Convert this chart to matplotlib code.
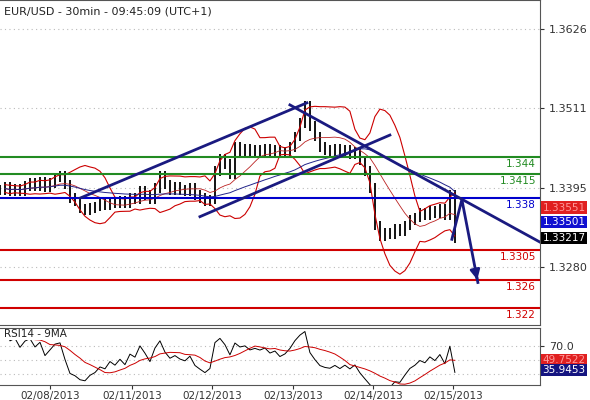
import numpy as np, pandas as pd
import matplotlib
matplotlib.use("Agg")
import matplotlib.pyplot as plt

closes = [1.3392,1.3396,1.3390,1.3394,1.3390,1.3398,1.3402,1.3398,1.3404,1.3396,1.3402,1.3410,1.3412,1.3400,
          1.3380,1.3375,1.3365,1.3362,1.3366,1.3368,1.3372,1.3370,1.3375,1.3372,1.3376,1.3372,1.3380,1.3378,
          1.3390,1.3385,1.3378,1.3395,1.3412,1.3400,1.3392,1.3396,1.3392,1.3390,1.3395,1.3385,1.3380,1.3375,
          1.3378,1.3420,1.3438,1.3430,1.3415,1.3455,1.3448,1.3452,1.3446,1.3450,1.3448,1.3452,1.3447,1.3450,
          1.3445,1.3448,1.3455,1.3470,1.3490,1.3515,1.3485,1.3470,1.3455,1.3450,1.3448,1.3452,1.3446,1.3450,
          1.3444,1.3448,1.3435,1.3420,1.3395,1.3340,1.3325,1.3330,1.3328,1.3335,1.3332,1.3340,1.3348,1.3352,
          1.3358,1.3355,1.3362,1.3358,1.3365,1.3355,1.3385,1.3322]
step = 5
date_pos = [50,132,212,293,373,453]
date_labels = ["02/08/2013","02/11/2013","02/12/2013","02/13/2013","02/14/2013","02/15/2013"]
green_levels = [1.344, 1.3415]
blue_levels = [1.338]
red_levels = [1.3305, 1.326, 1.322]
price_ticks = [1.3626, 1.3511, 1.3395, 1.3280]
trend_lines = [((80,1.3380),(307,1.3519)), ((200,1.3353),(390,1.3472)), ((290,1.3516),(540,1.3316))]
arrow_path = [(452,1.3320),(462,1.3378),(478,1.3257)]
last_high, last_mid, last_close = 1.33551, 1.33501, 1.33217
rsi_last, rsi_ma_last = 35.9453, 49.7522

c = pd.Series(closes)
x = np.arange(len(closes))*step
mid = c.rolling(10, min_periods=2).mean()
sd = c.rolling(10, min_periods=2).std()
ma_long = c.rolling(30, min_periods=2).mean()
d = c.diff()
up = d.clip(lower=0).ewm(alpha=1/6, adjust=False).mean()
dn = (-d.clip(upper=0)).ewm(alpha=1/6, adjust=False).mean()
rsi = 100 - 100/(1+up/(dn+1e-9))
rsi_ma = rsi.rolling(9, min_periods=1).mean()

fig = plt.figure(figsize=(5.9,4.0), dpi=100)
ax = fig.add_axes([0, 0.1875, 0.915, 0.8125])
ax2 = fig.add_axes([0, 0.0375, 0.915, 0.1425])
for a in (ax, ax2):
    a.set_xlim(0, 540)
    a.tick_params(left=False, labelleft=False, right=True, labelright=True, labelsize=8, length=3, colors='#333')
    for s in a.spines.values(): s.set_color('#555'); s.set_linewidth(0.8)
    a.spines['left'].set_visible(False)

ax.set_ylim(1.3195, 1.3669)
ax.set_yticks(price_ticks); ax.set_yticklabels([f"{v:.4f}" for v in price_ticks])
ax.set_xticks([])
for v in price_ticks:
    ax.axhline(v, color='#bbb', ls=(0,(1,3)), lw=0.8)

prev = np.r_[c.iloc[0], c.values[:-1]]
lo = np.minimum(prev, c.values) - 0.0007
hi = np.maximum(prev, c.values) + 0.0007
ax.vlines(x, lo, hi, color='black', lw=1.3)
ax.plot(x, mid, color='#b22', lw=0.6)
ax.plot(x, mid+2*sd, color='#c00', lw=0.8)
ax.plot(x, mid-2*sd, color='#c00', lw=0.8)
ax.plot(x, ma_long, color='#22248a', lw=0.7)

for levels, col in ((green_levels, '#228b22'), (blue_levels, '#0000cc'), (red_levels, '#d00000')):
    for v in levels:
        ax.axhline(v, color=col, lw=1.5)
        ax.text(536, v-0.0003, f"{v}", color=col, ha='right', va='top', fontsize=7.5)
for (p0, p1) in trend_lines:
    ax.plot([p0[0], p1[0]], [p0[1], p1[1]], color='#1a1a80', lw=2)
ax.plot([p[0] for p in arrow_path], [p[1] for p in arrow_path], color='#1a1a80', lw=2)
ax.annotate("", xy=arrow_path[-1], xytext=(arrow_path[-1][0]-1.5, arrow_path[-1][1]+0.0010),
            arrowprops=dict(arrowstyle='-|>', color='#1a1a80', lw=2, mutation_scale=14))
ax.text(4, 1.3660, "EUR/USD - 30min - 09:45:09 (UTC+1)", fontsize=8, va='top', color='#222')

def tag(a, y, txt, fc, tc='white', dy=0):
    a.annotate(txt, xy=(1.0, y), xycoords=a.get_yaxis_transform(), xytext=(2, dy), textcoords='offset points',
               fontsize=7.5, color=tc, va='center', ha='left',
               bbox=dict(boxstyle='square,pad=0.12', fc=fc, ec='none'), annotation_clip=False)
tag(ax, last_close, f"{last_high:.5f}", '#e02020', '#f99', dy=22)
tag(ax, last_close, f"{last_mid:.5f}", '#1010d0', dy=11.5)
tag(ax, last_close, f"{last_close:.5f}", 'black')

ax2.set_ylim(15, 95)
ax2.set_yticks([70]); ax2.set_yticklabels(["70.0"])
for v in (70, 50, 30):
    ax2.axhline(v, color='#bbb', ls=(0,(1,3)), lw=0.8)
ax2.plot(x, rsi, color='black', lw=0.7)
ax2.plot(x, rsi_ma, color='#c00', lw=0.7)
ax2.text(4, 93, "RSI14 - 9MA", fontsize=7.5, va='top', color='#222',
         bbox=dict(fc='white', ec='none', pad=0.5))
tag(ax2, rsi_ma_last, f"{rsi_ma_last:.4f}", '#e02020', '#f99')
tag(ax2, rsi_last, f"{rsi_last:.4f}", '#141480')
ax2.set_xticks(date_pos); ax2.set_xticklabels(date_labels, fontsize=7.5)
ax2.tick_params(axis='x', length=3, pad=1)
fig.savefig("out.png", dpi=100)
